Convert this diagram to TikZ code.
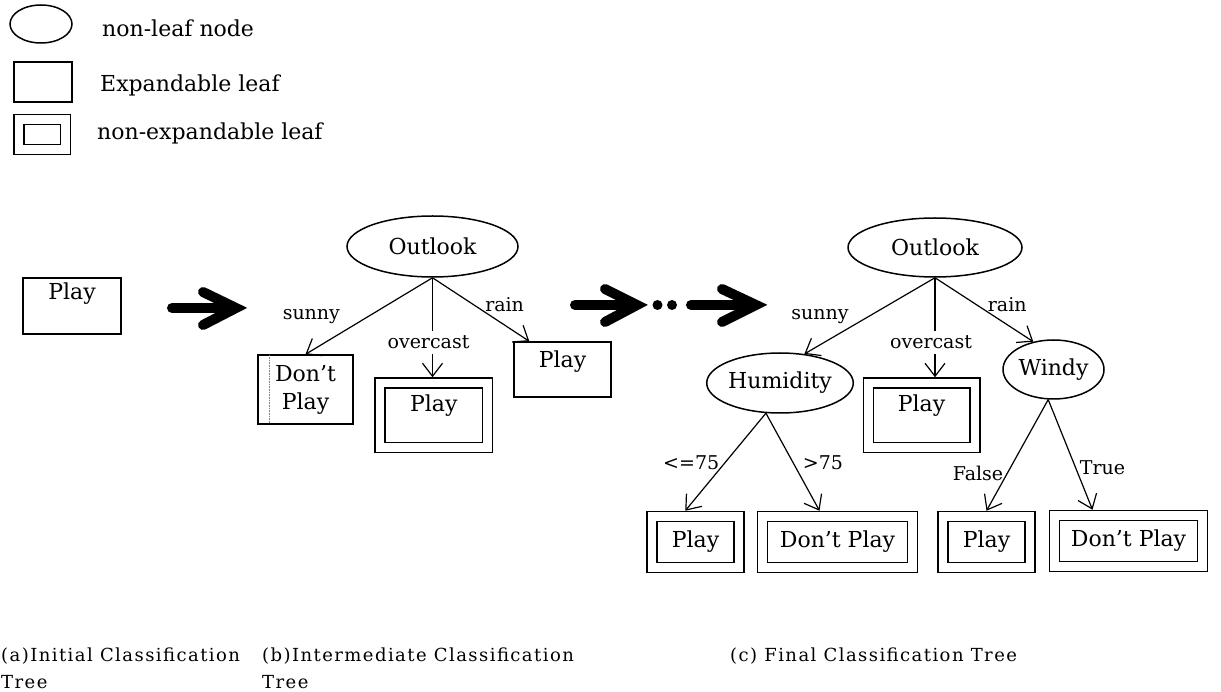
\documentclass[tikz,border=0pt]{standalone}
\usepackage{fontspec}
\setmainfont{DejaVu Serif}
\usetikzlibrary{arrows.meta,calc,shapes.geometric}

\newcommand\nodefont{\fontsize{22}{28}\selectfont}
\newcommand\edgefont{\fontsize{19}{23}\selectfont}
\newcommand\capfont{\fontsize{18}{27}\selectfont\addfontfeature{LetterSpace=8}}

\begin{document}
\begin{tikzpicture}[x=1pt,y=-1pt,
  nonleaf/.style={draw, ellipse, line width=1.5pt, inner sep=0pt, font=\nodefont},
  expleaf/.style={draw, rectangle, line width=1.4pt, inner sep=0pt, font=\nodefont},
  fixedleaf/.style={draw, rectangle, line width=1.5pt, double, double distance=8.5pt,
                    inner sep=0pt, outer sep=5.75pt, font=\nodefont},
  bottomleaf/.style={fixedleaf, minimum height=51pt, text height=30.5pt, text depth=20.5pt},
  branch/.style={line width=1.2pt, -{Straight Barb[length=13pt,width=20pt]}},
  elabel/.style={font=\edgefont, inner sep=1pt},
  cutlabel/.style={elabel, fill=white, inner ysep=5pt},
  legendtext/.style={font=\nodefont, inner sep=0pt, anchor=base west},
  caption/.style={font=\capfont, inner sep=0pt, align=left, anchor=north west},
  bigshaft/.style={line width=10pt, line cap=round},
  bighead/.style={line width=10pt, line cap=round, line join=miter}]

\useasboundingbox (0,0) rectangle (1221,692);

% legend
\node[nonleaf, minimum width=62pt, minimum height=38pt] (lgell) at (41,24) {};
\node[expleaf, minimum width=58pt, minimum height=40pt] (lgrect) at (43,82) {};
\node[fixedleaf, minimum width=46.5pt, minimum height=30pt] (lgdbl) at (42.25,134.5) {};
\node[legendtext] (lgt1) at (102,37) {non-leaf node};
\node[legendtext] (lgt2) at (100,92) {Expandable leaf};
\node[legendtext] (lgt3) at (97,140) {non-expandable leaf};

% (a) initial tree
\node[expleaf, minimum width=98pt, text height=22pt, text depth=34pt] (pa) at (72,306) {Play};

% transition arrows
\draw[bigshaft] (172,308) -- (230,308);
\draw[bighead] (203,292) -- (236,308) -- (203,325);
\draw[bigshaft] (575,305) -- (628,305);
\draw[bighead] (605,289) -- (637,305) -- (605,322);
\fill (657.5,305) circle (5);
\fill (672,305) circle (5);
\draw[bigshaft] (691,305) -- (748,305);
\draw[bighead] (722,289) -- (756,305) -- (722,322);

% (b) intermediate tree
\node[nonleaf, minimum width=171pt, minimum height=61pt] (ob) at (432.5,246.5) {Outlook};
\node[expleaf, minimum width=95pt, minimum height=69pt, align=center,
      font=\fontsize{22}{28}\selectfont] (dpb) at (305.5,389.5) {Don't\\Play};
\draw[gray, densely dotted, line width=0.6pt] ($(dpb.north west)+(12,1)$) -- ($(dpb.south west)+(12,-1)$);
\node[fixedleaf, minimum width=107.5pt, text height=29pt, text depth=35.5pt] (fpb) at (433.75,415.25) {Play};
\node[expleaf, minimum width=97pt, text height=26pt, text depth=29pt] (epb) at (562.5,369.5) {Play};

\draw[branch] (ob.south) -- node[elabel, pos=0.513, shift={(-56,0)}] {sunny} (dpb.north);
\draw[branch] (ob.south) -- node[cutlabel, pos=0.65, shift={(-4,0)}] {overcast} (ob.south |- fpb.north);
\draw[branch] (ob.south) -- node[elabel, pos=0.745, shift={(0,-20)}] {rain} ($(epb.north west)+(16,0)$);

% (c) final tree
\node[nonleaf, minimum width=174pt, minimum height=59pt] (oc) at (935,247.5) {Outlook};
\node[nonleaf, minimum width=128pt, minimum height=60pt] (hum) at (780,383) {Humidity};
\node[fixedleaf, minimum width=106.5pt, text height=29pt, text depth=35.5pt] (fpc) at (921.5,415.25) {Play};
\node[nonleaf, minimum width=101pt, minimum height=59pt] (windy) at (1053.5,369.5) {Windy};

\node[bottomleaf, minimum width=87pt] (plo) at (695.5,542) {Play};
\node[bottomleaf, minimum width=150pt] (dhi) at (837.5,542) {Don't Play};
\node[bottomleaf, minimum width=87pt] (pfa) at (986.5,542) {Play};
\node[bottomleaf, minimum width=148pt] (dtr) at (1128.5,541) {Don't Play};

\draw[branch] (oc.south) -- node[elabel, pos=0.513, shift={(-48,0)}] {sunny} (hum.50);
\draw[branch] (oc.south) -- node[cutlabel, pos=0.65, shift={(-4,0)}] {overcast} (oc.south |- fpc.north);
\draw[branch] (oc.south) -- node[elabel, pos=0.735, shift={(0,-20)}] {rain} (windy.126);

\draw[branch] (hum.-115) -- node[elabel, pos=0.505, shift={(-34,0)}] {<=75} ($(plo.north west)+(39,0)$);
\draw[branch] (hum.-115) -- node[elabel, pos=0.505, shift={(30,0)}] {>75} ($(dhi.north)+(-18,0)$);
\draw[branch] (windy.-100) -- node[elabel, pos=0.667, shift={(-29,0)}] {False} (pfa.north);
\draw[branch] (windy.-100) -- node[elabel, pos=0.618, shift={(27,0)}] {True} ($(dtr.north)+(-36,0)$);

% captions
\node[caption] (capa) at (1,648) {(a)Initial Classification\\Tree};
\node[caption] (capb) at (262,648) {(b)Intermediate Classification\\Tree};
\node[caption] (capc) at (730,648) {(c) Final Classification Tree};
\end{tikzpicture}
\end{document}
